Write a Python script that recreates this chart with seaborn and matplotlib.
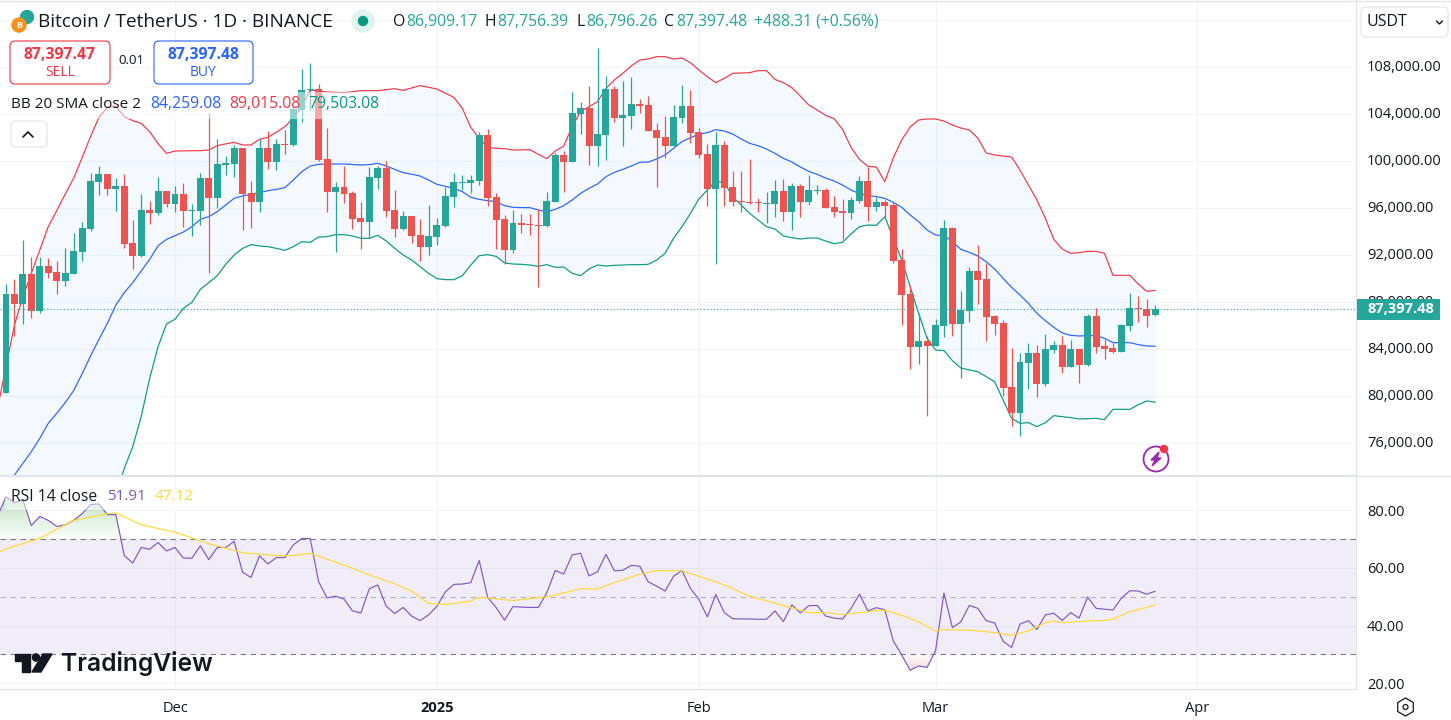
import numpy as np
import pandas as pd
import matplotlib
matplotlib.use('Agg')
import matplotlib.pyplot as plt
import matplotlib.dates as mdates
from matplotlib.patches import FancyBboxPatch, Rectangle, Circle, Polygon, RegularPolygon
from matplotlib.transforms import ScaledTranslation
import seaborn as sns

# BTC/USDT daily candles, 11 Nov 2024 to 27 Mar 2025
opens = [80309, 88706, 87855, 90408, 87287, 91089, 90578, 89812, 90408, 92280,
         94238, 98238, 98919, 97642, 97898, 93046, 91940, 95855, 95600, 97472,
         96366, 97217, 95770, 95770, 98578, 96876, 99685, 99770, 101132, 97302,
         96536, 101132, 99940, 101472, 101386, 104365, 106039, 106124, 100195, 97386,
         97812, 97301, 95173, 94833, 98578, 99429, 95854, 94237, 95344, 93727,
         92705, 93556, 94493, 96961, 98152, 98152, 98323, 102238, 96961, 95088,
         92450, 94748, 94663, 94578, 94493, 96535, 100535, 99939, 104025, 104536,
         101301, 102237, 106153, 103685, 103855, 104876, 104791, 102663, 102067, 101301,
         103685, 104706, 102493, 100620, 97642, 101386, 97812, 96620, 96535, 96535,
         96365, 96365, 97472, 95684, 97897, 96535, 97472, 97556, 96110, 95769,
         95599, 96620, 98323, 96110, 96536, 96281, 91600, 88707, 84196, 84706,
         84281, 85983, 94324, 86153, 87260, 90664, 89983, 86834, 86238, 80791,
         78578, 82834, 83685, 81047, 83940, 84366, 82493, 84025, 82663, 86834,
         84281, 84110, 83770, 85983, 87515, 87430, 86909]
highs = [89557, 89982, 93302, 91855, 91855, 91770, 91514, 92592, 93897, 94834,
         99004, 99600, 98919, 98578, 98919, 95004, 97217, 96621, 98664, 97472,
         97898, 98153, 96366, 99004, 104082, 101898, 100451, 101387, 101132, 98323,
         101898, 102579, 101898, 102664, 104649, 107855, 108365, 106578, 102833, 98237,
         99599, 97472, 96535, 99514, 99599, 100025, 97557, 95769, 95344, 95088,
         96280, 95173, 97812, 99003, 98833, 98833, 102493, 102748, 97301, 95429,
         95854, 95514, 95514, 95939, 97386, 100706, 100876, 105897, 105046, 106408,
         109642, 107259, 106408, 106833, 107174, 105301, 105557, 103259, 103855, 104791,
         106493, 106067, 102833, 101471, 102493, 101727, 99174, 99174, 100195, 96875,
         97386, 98408, 98493, 98152, 98067, 98833, 97982, 97727, 97046, 96790,
         96961, 98748, 99514, 96961, 96707, 96536, 92536, 89472, 87089, 85132,
         86579, 95005, 94409, 88962, 91004, 92877, 91345, 86919, 86493, 84110,
         83685, 84536, 84366, 85302, 84706, 85132, 84791, 84025, 87004, 87515,
         84876, 84536, 86153, 88791, 88536, 88281, 87756]
lows = [80250, 85160, 86153, 86692, 87117, 90067, 88706, 89387, 90408, 91514,
        94068, 97132, 97132, 95770, 92621, 90833, 91855, 94663, 95429, 96110,
        95685, 94408, 93642, 94578, 90493, 96025, 98834, 98664, 94153, 94323,
        95685, 99344, 99259, 100621, 101301, 103372, 104365, 100053, 95684, 92280,
        96450, 94237, 92535, 93471, 97642, 95258, 93556, 94152, 93045, 91514,
        92024, 92875, 94408, 96110, 97557, 97301, 97982, 96195, 92535, 91258,
        92195, 93897, 93727, 89301, 94408, 96535, 97386, 99939, 102323, 99684,
        99599, 100110, 103344, 101301, 102748, 104110, 102578, 97812, 100280, 101301,
        103259, 101557, 100280, 96195, 91258, 96195, 96195, 95684, 96365, 95684,
        94748, 95258, 94918, 94152, 95258, 96280, 97216, 96025, 95258, 93386,
        95088, 96450, 94918, 95769, 95260, 91345, 86068, 82323, 82749, 78323,
        84281, 85047, 85132, 81557, 86323, 87855, 84706, 85217, 80025, 77472,
        76620, 80621, 79940, 80876, 83685, 81983, 82493, 81131, 82578, 83685,
        83174, 83685, 83770, 85557, 86323, 85898, 86796]
closes = [88706, 87855, 90408, 87287, 91089, 90493, 89812, 90493, 92366, 94323,
          98323, 98919, 97642, 97898, 92961, 91940, 95855, 95600, 97472, 96366,
          97217, 95770, 95855, 98578, 96876, 99770, 99855, 101132, 97217, 96536,
          101132, 99940, 101472, 101387, 104422, 106067, 106153, 100110, 97386, 97812,
          97216, 95088, 94833, 98663, 99429, 95769, 94237, 95344, 93641, 92705,
          93641, 94578, 97046, 98237, 98237, 98408, 102238, 96876, 95003, 92450,
          94748, 94578, 94578, 94493, 96620, 100535, 99939, 104110, 104536, 101301,
          102323, 106153, 103685, 103940, 104876, 104706, 102578, 101982, 101301, 103770,
          104706, 102408, 100535, 97642, 101386, 97727, 96535, 96535, 96450, 96450,
          96450, 97472, 95684, 97897, 96535, 97556, 97556, 96025, 95684, 95599,
          96705, 98323, 96110, 96535, 96196, 91515, 88621, 84196, 84706, 84281,
          86068, 94324, 86153, 87345, 90664, 89898, 86749, 86153, 80706, 78578,
          82919, 83685, 81047, 84025, 84366, 82493, 84025, 82663, 86834, 84196,
          84025, 83770, 86068, 87515, 87401, 86834, 87397]

# Bollinger bands and RSI start one day earlier, the candle itself is cut off
bb_upper = [79000, 82522, 86068, 88479, 90465, 92450, 94436, 95800, 97200, 98550, 100300,
            102096, 103742, 104593, 104706, 103799, 103458, 103231, 102522, 101500, 100678,
            100876, 100890, 100900, 100905, 100962, 101330, 101480, 101614, 101387, 101387,
            101869, 102040, 102480, 102947, 103657, 104649, 106068, 105982, 105897, 105870,
            105840, 105920, 106011, 106010, 106011, 106100, 106181, 106039, 106240, 106436,
            106300, 106153, 105800, 105443, 104507, 102890, 101954, 101188, 101103, 101074,
            100961, 100970, 100989, 100600, 100223, 100876, 101301, 102947, 104252, 104649,
            105075, 106209, 106919, 107486, 108110, 108621, 108706, 108905, 108905, 108706,
            108791, 108394, 107770, 107202, 106692, 107060, 107486, 107514, 107543, 107713,
            107713, 106975, 106692, 106266, 105557, 104791, 104365, 103911, 103628, 102720,
            101188, 100167, 99571, 99514, 98267, 100280, 101812, 102919, 103514, 103599,
            103599, 103429, 103089, 102833, 102663, 101983, 100706, 100535, 100451, 100365,
            99259, 97983, 96707, 95146, 93359, 92536, 92167, 92224, 92338, 92338,
            92167, 90295, 90295, 90295, 89557, 88933, 89015]
bb_basis = [71300, 72308, 73301, 74294, 75287, 76422, 77699, 78550, 79458, 80479, 81898,
            83429, 84848, 86210, 87770, 88820, 89671, 90664, 91656, 92819, 93358,
            93670, 93983, 94437, 95061, 95288, 95713, 96281, 96848, 97046, 97188,
            97330, 97500, 97614, 97756, 98408, 99117, 99599, 99741, 99770, 99770,
            99770, 99730, 99684, 99713, 99826, 99599, 99320, 99032, 98900, 98748,
            98408, 98039, 97870, 97699, 97414, 96933, 96762, 96649, 96564, 96223,
            96081, 96060, 96053, 95854, 95713, 95911, 96223, 96705, 97273, 97698,
            98067, 98691, 99060, 99315, 99599, 99911, 99939, 100195, 100535, 101103,
            101670, 102011, 102294, 102436, 102691, 102578, 102322, 101897, 101528, 101330,
            101046, 100677, 100252, 99939, 99514, 99145, 98890, 98578, 98322, 97982,
            97556, 97244, 97103, 96989, 96849, 96508, 96083, 95430, 94863, 94153,
            93728, 93671, 93161, 92508, 92253, 91940, 91458, 90834, 90040, 89274,
            88621, 87912, 87061, 86437, 85870, 85387, 85188, 85132, 85160, 85160,
            84933, 84564, 84564, 84564, 84394, 84281, 84259]
bb_lower = [63000, 62100, 60500, 60100, 60100, 60400, 61000, 62000, 63000, 62400, 62900,
            64800, 66000, 67800, 71500, 73869, 75713, 78266, 81529, 84224, 86153,
            86550, 87486, 87996, 89103, 89670, 90266, 91230, 92025, 92592, 92905,
            92791, 92734, 92592, 92422, 92734, 93160, 93102, 93556, 93585, 93755,
            93755, 93641, 93443, 93443, 93698, 93216, 92592, 92025, 91599, 91031,
            90464, 90010, 89925, 89925, 90265, 91173, 91967, 92053, 91911, 91344,
            91258, 91230, 91173, 91060, 91202, 90975, 91003, 90464, 90265, 90833,
            91173, 91088, 91145, 91173, 91202, 91202, 91230, 91599, 92166, 93443,
            94436, 95571, 96791, 97557, 98323, 98181, 96989, 96280, 95571, 95003,
            94436, 94237, 93641, 93499, 93386, 93471, 93471, 93216, 92989, 93102,
            93812, 94436, 94578, 94549, 95288, 93444, 91600, 89330, 87061, 84933,
            83940, 83883, 83032, 82408, 82238, 82096, 81671, 81245, 79685, 78124,
            77699, 77756, 77415, 77756, 78352, 78266, 78181, 78068, 78096, 78124,
            78011, 78890, 78890, 78890, 79288, 79600, 79503]
rsi_values = [78.0, 84.7, 82.6, 83.7, 74.7, 77.9, 76.5, 74.4, 74.9, 76.5, 78.8,
              82.0, 82.2, 78.5, 78.5, 64.3, 61.7, 67.1, 66.5, 68.8, 65.9,
              67.1, 63.4, 63.4, 67.7, 62.9, 67.1, 67.1, 69.2, 58.5, 56.7,
              64.2, 61.4, 63.6, 63.6, 68.0, 70.2, 70.2, 55.2, 49.6, 50.2,
              49.2, 45.1, 44.4, 52.8, 54.1, 46.7, 44.2, 46.3, 43.3, 41.7,
              43.7, 46.7, 51.7, 54.3, 54.4, 54.9, 62.6, 49.8, 46.3, 41.9,
              46.6, 46.4, 46.3, 46.3, 51.4, 59.1, 57.9, 64.5, 65.1, 57.2,
              58.7, 64.7, 59.0, 59.2, 60.9, 60.6, 55.2, 53.7, 52.0, 57.1,
              59.1, 52.9, 49.1, 43.0, 50.8, 44.5, 42.4, 42.3, 42.3, 42.2,
              42.2, 45.1, 41.4, 47.2, 44.4, 46.9, 47.0, 43.3, 42.6, 42.3,
              45.9, 50.9, 45.1, 46.2, 45.5, 34.7, 29.8, 24.5, 26.0, 25.5,
              31.2, 51.3, 39.3, 41.3, 47.0, 46.0, 41.7, 40.9, 34.6, 32.4,
              40.5, 41.7, 38.7, 43.7, 44.3, 41.8, 44.5, 42.6, 49.9, 46.0,
              45.7, 45.4, 49.5, 52.1, 52.0, 50.9, 51.91]

# RSI moving average, read at these days counted from 1 Dec 2024
ma_days = [-21, -20, -16, -12, -8, -7, -4, 0, 4, 8, 12, 14, 16, 20, 23, 26, 28, 30, 32,
           35, 36, 40, 44, 46, 48, 50, 52, 55, 57, 60, 63, 65, 68, 70, 73, 75, 77, 79, 81,
           83, 84, 86, 88, 90, 91, 94, 97, 99, 101, 103, 104, 105, 108, 110, 111, 113, 116]
ma_values = [65.2, 66.6, 70.3, 76.5, 78.8, 79.1, 75.0, 72.4, 68.4, 65.3, 64.3, 64.3, 65.1,
             61.0, 57.6, 54.5, 52.0, 47.7, 47.3, 48.5, 49.8, 48.7, 50.0, 51.3, 52.8, 52.7,
             54.9, 57.8, 59.1, 59.0, 56.2, 54.1, 50.2, 48.6, 46.2, 44.5, 44.5, 43.8, 44.5,
             45.2, 45.3, 43.6, 41.3, 38.1, 38.6, 38.4, 37.6, 36.6, 38.2, 41.0, 41.6, 41.0,
             41.6, 41.8, 42.3, 44.8, 47.12]

price_ticks = [76000, 80000, 84000, 88000, 92000, 96000, 100000, 104000, 108000, 112000]
rsi_ticks = [20, 40, 60, 80]
last_price = 87397.48

FONT = 'Open Sans'
GREEN = '#26a69a'
RED = '#ef5350'
GRID = '#f0f3fa'
BORDER = '#e0e3eb'
DARK = '#131722'

sns.set_theme(style='white')
plt.rcParams['font.family'] = FONT

candle_dates = pd.date_range('2024-11-11', periods=len(closes))
line_dates = pd.date_range('2024-11-10', periods=len(bb_basis))
candles = pd.DataFrame({'date': candle_dates, 'open': opens, 'high': highs, 'low': lows, 'close': closes})
candles['color'] = np.where(candles['close'] >= candles['open'], GREEN, RED)
bands = pd.DataFrame({'date': line_dates, 'upper': bb_upper, 'basis': bb_basis, 'lower': bb_lower, 'rsi': rsi_values})
rsi_ma = pd.DataFrame({'date': pd.Timestamp('2024-12-01') + pd.to_timedelta(ma_days, unit='D'), 'ma': ma_values})

W, H = 1451, 720
fig = plt.figure(figsize=(W / 100, H / 100), dpi=100, facecolor='white')
ax = fig.add_axes([0, 1 - 475 / H, 1356 / W, 475 / H])
ax_rsi = fig.add_axes([0, 1 - 689 / H, 1356 / W, 213 / H], sharex=ax)

# price pane
ax.fill_between(bands['date'], bands['lower'], bands['upper'], color='#2196f3', alpha=0.05, linewidth=0)
sns.lineplot(data=bands, x='date', y='upper', color='#f23645', lw=0.85, ax=ax, errorbar=None)
sns.lineplot(data=bands, x='date', y='basis', color='#2962ff', lw=0.85, ax=ax, errorbar=None)
sns.lineplot(data=bands, x='date', y='lower', color='#089981', lw=0.85, ax=ax, errorbar=None)

ax.vlines(candles['date'], candles['low'], candles['high'], colors=candles['color'], lw=0.9, zorder=3)
body_low = candles[['open', 'close']].min(axis=1)
body_size = np.maximum((candles['close'] - candles['open']).abs(), 90)
ax.bar(candles['date'], body_size, bottom=body_low, width=0.82, color=candles['color'], linewidth=0, zorder=4)
ax.axhline(last_price, color=GREEN, lw=0.8, ls=(0, (1, 2)), zorder=5)

# RSI pane
ax_rsi.axhspan(30, 70, color='#7e57c2', alpha=0.1, linewidth=0)
for level, col in [(70, '#787b86'), (50, '#b2b5be'), (30, '#787b86')]:
    ax_rsi.axhline(level, color=col, lw=0.8, ls=(0, (5, 4)))

# gradient above 70 and below 30, stacked thin fills
rsi_arr = bands['rsi'].to_numpy(dtype=float)
for level in np.arange(70, 86, 1.0):
    ax_rsi.fill_between(bands['date'], level, rsi_arr, where=rsi_arr > level, interpolate=True,
                        color='#4caf50', alpha=0.025, linewidth=0)
for level in np.arange(30, 24, -1.0):
    ax_rsi.fill_between(bands['date'], level, rsi_arr, where=rsi_arr < level, interpolate=True,
                        color='#f23645', alpha=0.03, linewidth=0)

sns.lineplot(data=bands, x='date', y='rsi', color='#7e57c2', lw=0.85, ax=ax_rsi, errorbar=None)
sns.lineplot(data=rsi_ma, x='date', y='ma', color='#fdd835', lw=0.85, ax=ax_rsi, errorbar=None)

# x range from the pixel spacing of 8.45 px per day, Dec 1 at x=175
dec1 = mdates.date2num(pd.Timestamp('2024-12-01'))
ax.set_xlim(dec1 - 175 / 8.45, dec1 + (1356 - 175) / 8.45)
ax.set_ylim(73302, 113727)
ax_rsi.set_ylim(18.0, 91.9)

for a in (ax, ax_rsi):
    a.set_xlabel('')
    a.set_ylabel('')
    a.set_axisbelow(True)
    a.grid(True, color=GRID, lw=0.75)
    a.yaxis.tick_right()
    a.tick_params(axis='y', length=0, pad=8, labelsize=10.5, labelcolor=DARK)
    for side in ('top', 'left'):
        a.spines[side].set_visible(False)
    for side in ('right', 'bottom'):
        a.spines[side].set_color(BORDER)
        a.spines[side].set_linewidth(0.9)

ax.set_yticks(price_ticks)
ax.set_yticklabels([f'{t:,.2f}' if t < 112000 else '' for t in price_ticks])
ax_rsi.set_yticks(rsi_ticks)
ax_rsi.set_yticklabels([f'{t:.2f}' for t in rsi_ticks])

# price labels sit about 2 px above their gridline in the screenshot
nudge = ScaledTranslation(0, 2 / 100, fig.dpi_scale_trans)
for tick_label in ax.get_yticklabels():
    tick_label.set_transform(tick_label.get_transform() + nudge)

month_ticks = pd.to_datetime(['2024-12-01', '2025-01-01', '2025-02-01', '2025-03-01', '2025-04-01'])
month_labels = ['Dec', '2025', 'Feb', 'Mar', 'Apr']
ax.set_xticks(month_ticks)
ax.tick_params(axis='x', length=0, labelbottom=False)
ax_rsi.set_xticks(month_ticks)
ax_rsi.set_xticklabels(month_labels)
ax_rsi.tick_params(axis='x', length=0, pad=9, labelsize=10.5, labelcolor=DARK)
ax_rsi.get_xticklabels()[1].set_fontweight('bold')

# overlay in screen pixels for the TradingView chrome
ui = fig.add_axes([0, 0, 1, 1], zorder=10)
ui.set_xlim(0, W)
ui.set_ylim(H, 0)
ui.axis('off')
ui.patch.set_alpha(0)


def label(x, y, s, size=10, color=DARK, **kw):
    kw.setdefault('va', 'center')
    ui.text(x, y, s, fontsize=size, color=color, **kw)


def box(x0, y0, x1, y1, edge, face='white', radius=5, lw=0.8):
    ui.add_patch(FancyBboxPatch((x0 + radius, y0 + radius), x1 - x0 - 2 * radius, y1 - y0 - 2 * radius,
                                boxstyle=f'round,pad={radius}', fc=face, ec=edge, lw=lw))


ui.plot([0, W], [0.5, 0.5], color=BORDER, lw=0.9)
ui.plot([0, W], [475.5, 475.5], color=BORDER, lw=0.9)

# header
ui.add_patch(Circle((27, 17), 6.5, color='#26a69a'))
ui.add_patch(Circle((19, 25), 7, color='#f7931a'))
label(19, 25, 'B', size=6.5, color='white', ha='center', fontweight='bold')
label(38, 22, 'Bitcoin / TetherUS · 1D · BINANCE', size=13.7)
ui.add_patch(Circle((363, 21), 11, color='#dff3ef'))
ui.add_patch(Circle((363, 21), 4.5, color='#089981'))

ohlc_pos = [(393, 'O', 406, '86,909.17'), (485, 'H', 497, '87,756.39'),
            (576, 'L', 586, '86,796.26'), (664, 'C', 676, '87,397.48')]
for lx, letter, vx, val in ohlc_pos:
    label(lx, 22, letter, size=11.3)
    label(vx, 22, val, size=11.3, color=GREEN)
label(754, 22, '+488.31 (+0.56%)', size=11.3, color=GREEN)

box(10, 41, 110, 84, '#f23645')
label(60, 55, '87,397.47', size=11.3, color='#f23645', ha='center', fontweight='bold')
label(60, 72, 'SELL', size=10, color='#f23645', ha='center')
label(131, 61, '0.01', size=9.5, ha='center')
box(154, 41, 253, 84, '#2962ff')
label(203, 55, '87,397.48', size=11.3, color='#2962ff', ha='center', fontweight='bold')
label(203, 72, 'BUY', size=10, color='#2962ff', ha='center')

ui.add_patch(Rectangle((5, 92), 380, 27, fc='white', ec='none', alpha=0.5))
label(11, 104, 'BB 20 SMA close 2', size=11)
label(150, 104, '84,259.08', size=11.3, color='#2962ff')
label(229, 104, '89,015.08', size=11.3, color='#f23645')
label(308, 104, '79,503.08', size=11.3, color='#089981')
box(11, 121, 47, 147, BORDER)
ui.plot([23, 28, 33], [137, 132, 137], color=DARK, lw=1.2)

# right scale extras
box(1361, 7, 1448, 37, BORDER)
label(1367, 22, 'USDT', size=11.5)
ui.plot([1436.5, 1439.5, 1442.5], [21, 24, 21], color=DARK, lw=1.0)
ui.add_patch(Rectangle((1357, 299), 83, 21, fc=GREEN, ec='none'))
label(1367, 309, '87,397.48', size=10.5, color='white', fontweight='bold')

# RSI legend on its half transparent strip
ui.add_patch(Rectangle((5, 486), 195, 24, fc='white', ec='none', alpha=0.5))
label(11, 497, 'RSI 14 close', size=11.3)
label(107, 497, '51.91', size=11, color='#7e57c2')
label(155, 497, '47.12', size=11, color='#fdd835')

# TradingView mark
ui.add_patch(Polygon([(14.5, 654), (30, 654), (30, 672), (22, 672), (22, 661), (14.5, 661)], color=DARK))
ui.add_patch(Circle((36, 657.5), 3.6, color=DARK))
ui.add_patch(Polygon([(43, 654), (52, 654), (41, 672), (32, 672)], color=DARK))
label(61, 664, 'TradingView', size=17.7, family='Inter', fontweight='semibold')

# lightning badge
ui.add_patch(Circle((1156, 459), 12.5, fc='none', ec='#9c27b0', lw=1.3))
ui.add_patch(Polygon([(1159, 452), (1151, 460), (1155, 460), (1152, 466), (1161, 458), (1157, 458)], color='#9c27b0'))
ui.add_patch(Circle((1164, 449), 3.5, color='#f23645'))

# settings hexagon
ui.add_patch(RegularPolygon((1405.5, 707), 6, radius=9, fc='none', ec=DARK, lw=0.9))
ui.add_patch(Circle((1405.5, 707), 2.5, fc='none', ec=DARK, lw=0.9))

fig.savefig('out.png', dpi=100)
